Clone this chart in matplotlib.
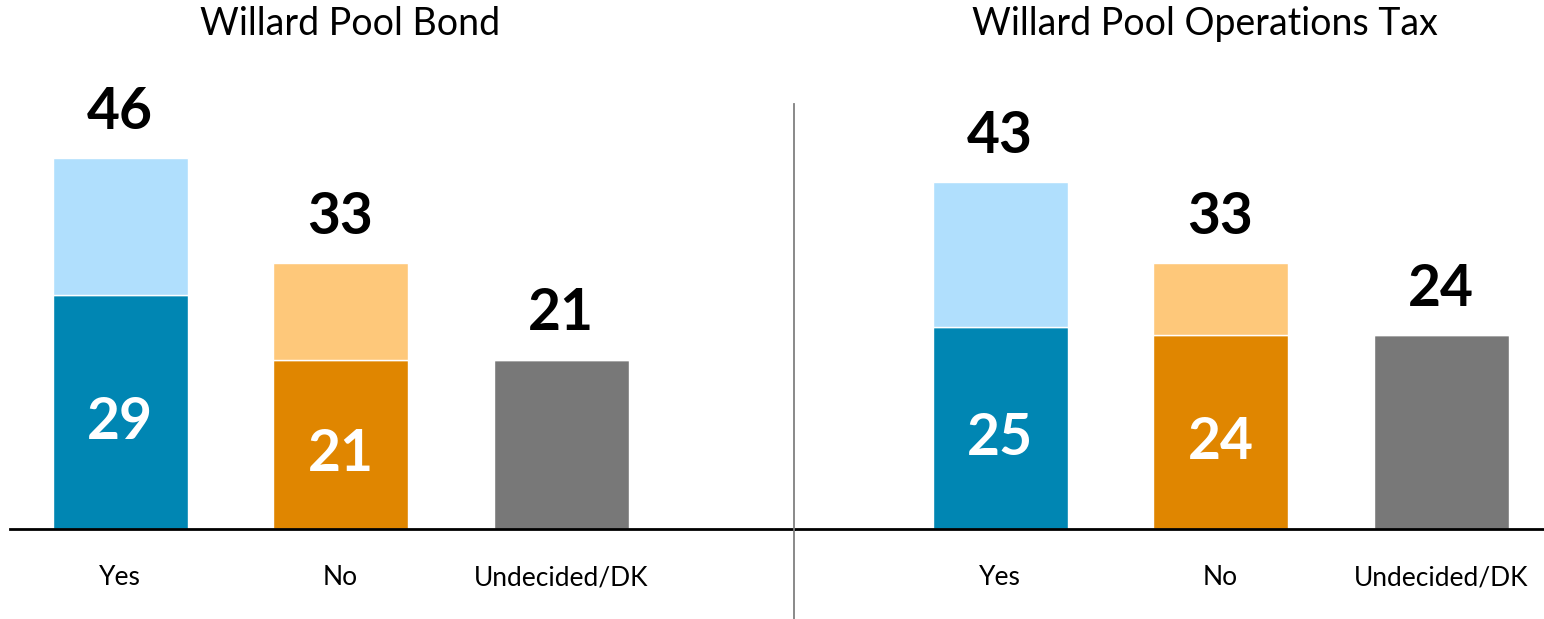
import matplotlib
matplotlib.use("Agg")
import matplotlib.pyplot as plt

plt.rcParams['font.family'] = ['Lato', 'DejaVu Sans']

# data
categories = ["Yes", "No", "Undecided/DK"]
titles = ["Willard Pool Bond", "Willard Pool Operations Tax"]
strong = [[29, 21, 21], [25, 24, 24]]      # inner (dark) segment
total = [[46, 33, 21], [43, 33, 24]]       # full bar height
show_inner = [True, True, False]

dark = ["#0086B3", "#E08600", "#787878"]
light = ["#B0DFFD", "#FEC87A", "#787878"]

W, H = 1544, 619
fig = plt.figure(figsize=(W / 100, H / 100), dpi=100)

px_per_cat = 220.5
px_per_unit = 8.07
base_y = 529
top_y = 40
bar_w = 135 / px_per_cat

# panel layouts: (left px, right px, center px of first bar)
panels = [(10, 794, 120), (794, 1544, 1000)]
title_x = [350, 1205]

for i, (x0, x1, c0) in enumerate(panels):
    ax = fig.add_axes([x0 / W, (H - base_y) / H, (x1 - x0) / W, (base_y - top_y) / H])
    ax.set_xlim((x0 - c0) / px_per_cat, (x1 - c0) / px_per_cat)
    ax.set_ylim(0, (base_y - top_y) / px_per_unit)
    xs = range(len(categories))
    ax.bar(xs, strong[i], width=bar_w, color=dark, edgecolor="white", linewidth=1)
    upper = [t - s for t, s in zip(total[i], strong[i])]
    ax.bar(xs, upper, bottom=strong[i], width=bar_w, color=light,
           edgecolor="white", linewidth=1)
    for x, s, t, inner in zip(xs, strong[i], total[i], show_inner):
        ax.annotate(str(t), (x, t), xytext=(0, 21), textcoords="offset points",
                    ha="center", va="baseline", fontsize=41, fontweight="bold",
                    color="black")
        if inner:
            ax.text(x, s / 2 - 1.3, str(s), ha="center", va="center",
                    fontsize=41, fontweight="bold", color="white")
    for sp in ["top", "right", "left"]:
        ax.spines[sp].set_visible(False)
    ax.spines["bottom"].set_linewidth(2)
    ax.spines["bottom"].set_color("black")
    ax.set_yticks([])
    ax.set_xticks(list(xs))
    ax.set_xticklabels(categories, fontsize=19)
    ax.tick_params(axis="x", length=0, pad=26)
    fig.text(title_x[i] / W, 1 - 24 / H, titles[i], ha="center", va="center",
             fontsize=27)

# separator between the two panels
fig.add_artist(plt.Line2D([794 / W, 794 / W], [0, 1 - 104 / H],
                          transform=fig.transFigure, color="#808080", linewidth=1.3))

fig.savefig("out.png", dpi=100)
